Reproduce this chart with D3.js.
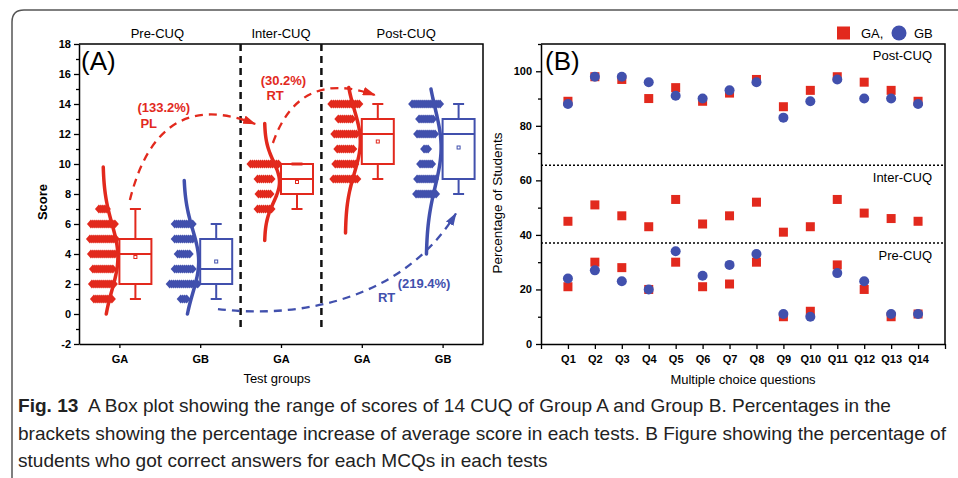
<!DOCTYPE html>
<html>
<head>
<meta charset="utf-8">
<script src="https://cdn.jsdelivr.net/npm/d3@7"></script>
<style>
  body { margin: 0; background: #fff; }
  svg { display: block; font-family: Arial, "Liberation Sans", sans-serif; }
</style>
</head>
<body>
<svg id="fig" width="958" height="478"></svg>
<script>
// ---- panel A: score distributions ----
const groups = ["GA", "GB", "GA", "GA", "GB"];
const phases = ["Pre-CUQ", "Inter-CUQ", "Post-CUQ"];
const phasePos = [1.47, 3, 4.55];
const q1 = [2, 2, 8, 10, 9];
const median = [4, 3, 9, 12, 12];
const q3 = [5, 5, 10, 13, 13];
const whiskerLow = [1, 1, 7, 9, 8];
const whiskerHigh = [7, 6, 10, 14, 14];
const means = [3.8, 3.5, 8.8, 11.5, 11.1];
const sds = [2.2, 2.1, 1.35, 2.1, 2.6];
const curveLow = [0, 0, 4.9, 5.4, 4.0];
const curveHigh = [9.8, 8.9, 12.7, 15.1, 15.0];
// students per score, index = score 0..14
const countsPreGA   = [0, 10, 12, 11, 13, 14, 13, 5, 0, 0, 0, 0, 0, 0, 0];
const countsPreGB   = [0, 4, 15, 10, 7, 10, 10, 0, 0, 0, 0, 0, 0, 0, 0];
const countsInterGA = [0, 0, 0, 0, 0, 0, 0, 8, 7, 8, 15, 0, 0, 0, 0];
const countsPostGA  = [0, 0, 0, 0, 0, 0, 0, 0, 0, 13, 11, 9, 12, 8, 15];
const countsPostGB  = [0, 0, 0, 0, 0, 0, 0, 0, 11, 10, 7, 3, 10, 8, 15];
const counts = [countsPreGA, countsPreGB, countsInterGA, countsPostGA, countsPostGB];

// ---- panel B: % correct per question ----
const questions = d3.range(1, 15).map(i => "Q" + i);
const preGA   = [21, 30, 28, 20, 30, 21, 22, 30, 10, 12, 29, 20, 10, 11];
const preGB   = [24, 27, 23, 20, 34, 25, 29, 33, 11, 10, 26, 23, 11, 11];
const interGA = [45, 51, 47, 43, 53, 44, 47, 52, 41, 43, 53, 48, 46, 45];
const postGA  = [89, 98, 97, 90, 94, 89, 92, 97, 87, 93, 98, 96, 93, 89];
const postGB  = [88, 98, 98, 96, 91, 90, 93, 96, 83, 89, 97, 90, 90, 88];
const phaseBounds = [37, 65.5];

const RED = "#e2291d";
const BLUE = "#4150ad";
const colorOf = g => g === "GA" ? RED : BLUE;

const svg = d3.select("#fig");

// outer figure border
svg.append("path")
  .attr("d", "M12,478 L12,22 Q12,10 24,10 L958,10")
  .attr("fill", "none").attr("stroke", "#555").attr("stroke-width", 1.5);

const defs = svg.append("defs");
[["arRed", RED], ["arBlue", BLUE]].forEach(([id, c]) => {
  defs.append("marker").attr("id", id)
    .attr("viewBox", "0 0 12 8").attr("refX", 11).attr("refY", 4)
    .attr("markerUnits", "userSpaceOnUse")
    .attr("markerWidth", 13).attr("markerHeight", 9)
    .attr("orient", "auto")
    .append("path").attr("d", "M0,0 L12,4 L0,8 z").attr("fill", c);
});

// ================= PANEL A =================
let xA = d3.scaleLinear().domain([0.5, 5.5]).range([79, 483]);
let yA = d3.scaleLinear().domain([-2, 18]).range([344, 44]);
let gA = svg.append("g");

// frame
gA.append("path")
  .attr("d", `M${xA(0.5)},${yA(18)} L${xA(5.5)},${yA(18)} L${xA(5.5)},${yA(-2)}`)
  .attr("fill", "none").attr("stroke", "#000").attr("stroke-width", 1.5);

// y axis
let yAxisA = d3.axisLeft(yA).tickValues(d3.range(-2, 19, 2))
  .tickFormat(d => String(d)).tickSize(5).tickPadding(3).tickSizeOuter(0);
gA.append("g").attr("class", "y-axis")
  .attr("transform", "translate(" + xA(0.5) + ",0)")
  .call(yAxisA);
gA.append("g")
  .attr("transform", "translate(" + xA(0.5) + ",0)")
  .call(d3.axisLeft(yA).tickValues(d3.range(-1, 18, 2)).tickSize(3).tickFormat("").tickSizeOuter(0))
  .select(".domain").remove();

// x axis
let xAxisA = d3.axisBottom(xA).tickValues([1, 2, 3, 4, 5])
  .tickFormat(i => groups[i - 1]).tickSize(4).tickPadding(7).tickSizeOuter(0);
gA.append("g").attr("class", "x-axis")
  .attr("transform", "translate(0," + yA(-2) + ")")
  .call(xAxisA);

// phase separators
gA.selectAll("line.sep")
  .data([2.5, 3.5])
  .join("line").attr("class", "sep")
  .attr("x1", d => xA(d)).attr("x2", d => xA(d))
  .attr("y1", yA(18)).attr("y2", yA(-0.9))
  .attr("stroke", "#111").attr("stroke-width", 2.5).attr("stroke-dasharray", "7,5");

// phase labels
gA.selectAll("text.phase")
  .data(phases)
  .join("text").attr("class", "phase")
  .attr("x", (d, i) => xA(phasePos[i]))
  .attr("y", 38)
  .attr("text-anchor", "middle").attr("font-size", 13)
  .text(d => d);

// dot rows (one diamond per student)
const dotOff = -16.5, step = 2, dw = 4, dh = 4.5;
groups.forEach((g, i) => {
  let rows = counts[i].map((n, s) => ({ n: n, s: s })).filter(r => r.n > 0);
  let pts = [];
  rows.forEach(r => {
    for (let k = 0; k < r.n; k++) {
      pts.push({ x: xA(i + 1) + dotOff - (r.n - 1) * step / 2 + k * step, y: yA(r.s) });
    }
  });
  gA.append("g").selectAll("path")
    .data(pts)
    .join("path")
    .attr("d", d => `M${d.x - dw},${d.y} L${d.x},${d.y - dh} L${d.x + dw},${d.y} L${d.x},${d.y + dh} Z`)
    .attr("fill", colorOf(g));
});

// normal curves
const curveAmp = 15;
groups.forEach((g, i) => {
  let ss = d3.range(curveLow[i], curveHigh[i] + 0.001, 0.1);
  let line = d3.line()
    .x(s => xA(i + 1) + dotOff + curveAmp * Math.exp(-0.5 * Math.pow((s - means[i]) / sds[i], 2)))
    .y(s => yA(s))
    .curve(d3.curveBasis);
  gA.append("path").datum(ss)
    .attr("d", line)
    .attr("fill", "none").attr("stroke", colorOf(g))
    .attr("stroke-width", 3.5).attr("stroke-linecap", "round");
});

// box plots
const boxW = 32, capW = 11;
groups.forEach((g, i) => {
  let c = colorOf(g);
  let x0 = xA(i + 1), xm = x0 + boxW / 2;
  let bg = gA.append("g").attr("stroke", c).attr("stroke-width", 2).attr("fill", "none");
  bg.append("line").attr("x1", xm).attr("x2", xm).attr("y1", yA(whiskerLow[i])).attr("y2", yA(q1[i]));
  bg.append("line").attr("x1", xm).attr("x2", xm).attr("y1", yA(q3[i])).attr("y2", yA(whiskerHigh[i]));
  bg.append("line").attr("x1", xm - capW / 2).attr("x2", xm + capW / 2).attr("y1", yA(whiskerLow[i])).attr("y2", yA(whiskerLow[i]));
  bg.append("line").attr("x1", xm - capW / 2).attr("x2", xm + capW / 2).attr("y1", yA(whiskerHigh[i])).attr("y2", yA(whiskerHigh[i]))
    .attr("stroke-width", whiskerHigh[i] === q3[i] ? 3 : 2);
  bg.append("rect").attr("x", x0).attr("width", boxW)
    .attr("y", yA(q3[i])).attr("height", yA(q1[i]) - yA(q3[i]));
  bg.append("line").attr("x1", x0).attr("x2", x0 + boxW).attr("y1", yA(median[i])).attr("y2", yA(median[i]));
  bg.append("rect").attr("x", xm - 1.5).attr("y", yA(means[i]) - 1.5)
    .attr("width", 3).attr("height", 3).attr("stroke-width", 1);
});

// arrows (data-space control points)
const P = (a, b) => [xA(a), yA(b)];
function quadPath(p0, p1, p2) {
  return `M${p0[0]},${p0[1]} Q${p1[0]},${p1[1]} ${p2[0]},${p2[1]}`;
}
function cubicPath(p0, p1, p2, p3) {
  return `M${p0[0]},${p0[1]} C${p1[0]},${p1[1]} ${p2[0]},${p2[1]} ${p3[0]},${p3[1]}`;
}
gA.append("path")
  .attr("d", quadPath(P(1.13, 7.6), P(1.48, 15.2), P(2.68, 12.67)))
  .attr("fill", "none").attr("stroke", RED).attr("stroke-width", 2.3)
  .attr("stroke-dasharray", "8,6").attr("marker-end", "url(#arRed)");
gA.append("path")
  .attr("d", quadPath(P(2.9, 11.4), P(3.22, 16.37), P(4.16, 14.6)))
  .attr("fill", "none").attr("stroke", RED).attr("stroke-width", 2.3)
  .attr("stroke-dasharray", "8,6").attr("marker-end", "url(#arRed)");
gA.append("path")
  .attr("d", cubicPath(P(2.22, 0.33), P(3.11, -0.27), P(4.47, 0.6), P(5.165, 6.7)))
  .attr("fill", "none").attr("stroke", BLUE).attr("stroke-width", 2.3)
  .attr("stroke-dasharray", "8,6").attr("marker-end", "url(#arBlue)");

// annotations
const notes = [
  { t: "(133.2%)", a: 1.55, b: 13.45, c: RED, anchor: "middle" },
  { t: "PL", a: 1.26, b: 12.4, c: RED, anchor: "start" },
  { t: "(30.2%)", a: 3.03, b: 15.25, c: RED, anchor: "middle" },
  { t: "RT", a: 2.82, b: 14.3, c: RED, anchor: "start" },
  { t: "(219.4%)", a: 4.77, b: 1.75, c: BLUE, anchor: "middle" },
  { t: "RT", a: 4.2, b: 0.8, c: BLUE, anchor: "start" }
];
gA.selectAll("text.note")
  .data(notes)
  .join("text").attr("class", "note")
  .attr("x", d => xA(d.a)).attr("y", d => yA(d.b))
  .attr("text-anchor", d => d.anchor)
  .attr("fill", d => d.c).attr("font-size", 13).attr("font-weight", "bold")
  .text(d => d.t);

gA.append("text").attr("x", 81).attr("y", 70).attr("font-size", 26).text("(A)");
gA.append("text")
  .attr("transform", "translate(47,202) rotate(-90)")
  .attr("text-anchor", "middle").attr("font-size", 13).attr("font-weight", "bold")
  .text("Score");
gA.append("text").attr("x", 277).attr("y", 383)
  .attr("text-anchor", "middle").attr("font-size", 13).text("Test groups");

// ================= PANEL B =================
let xB = d3.scaleLinear().domain([0, 15]).range([541, 945]);
let yB = d3.scaleLinear().domain([0, 110]).range([344, 44]);
let gB = svg.append("g");

gB.append("path")
  .attr("d", `M${xB(0)},${yB(110)} L${xB(15)},${yB(110)} L${xB(15)},${yB(0)}`)
  .attr("fill", "none").attr("stroke", "#000").attr("stroke-width", 1.5);

gB.append("g")
  .attr("transform", "translate(" + xB(0) + ",0)")
  .call(d3.axisLeft(yB).tickValues(d3.range(0, 101, 20)).tickSize(5).tickPadding(4).tickSizeOuter(0));
gB.append("g")
  .attr("transform", "translate(" + xB(0) + ",0)")
  .call(d3.axisLeft(yB).tickValues(d3.range(10, 111, 20)).tickSize(3).tickFormat("").tickSizeOuter(0))
  .select(".domain").remove();
gB.append("g")
  .attr("transform", "translate(0," + yB(0) + ")")
  .call(d3.axisBottom(xB).tickValues(d3.range(0, 16))
    .tickFormat(i => (i >= 1 && i <= 14) ? questions[i - 1] : "")
    .tickSize(5).tickPadding(6).tickSizeOuter(0));

gB.selectAll("line.bound")
  .data(phaseBounds)
  .join("line").attr("class", "bound")
  .attr("x1", xB(0)).attr("x2", xB(15))
  .attr("y1", d => yB(d)).attr("y2", d => yB(d))
  .attr("stroke", "#000").attr("stroke-width", 1.5).attr("stroke-dasharray", "2,2");

gB.selectAll("text.phaseB")
  .data([["Pre-CUQ", 30.8], ["Inter-CUQ", 59.5], ["Post-CUQ", 104.1]])
  .join("text").attr("class", "phaseB")
  .attr("x", 932).attr("y", d => yB(d[1]))
  .attr("text-anchor", "end").attr("font-size", 13)
  .text(d => d[0]);

const sq = 9, rr = 5;
[preGA, interGA, postGA].forEach(arr => {
  gB.append("g").selectAll("rect")
    .data(arr)
    .join("rect")
    .attr("x", (d, i) => xB(i + 1) - sq / 2)
    .attr("y", d => yB(d) - sq / 2)
    .attr("width", sq).attr("height", sq)
    .attr("fill", RED);
});
[preGB, postGB].forEach(arr => {
  gB.append("g").selectAll("circle")
    .data(arr)
    .join("circle")
    .attr("cx", (d, i) => xB(i + 1))
    .attr("cy", d => yB(d))
    .attr("r", rr)
    .attr("fill", BLUE);
});

gB.append("text").attr("x", 545).attr("y", 70).attr("font-size", 26).text("(B)");
gB.append("text")
  .attr("transform", "translate(502,203) rotate(-90)")
  .attr("text-anchor", "middle").attr("font-size", 13.5)
  .text("Percentage of Students");
gB.append("text").attr("x", 743).attr("y", 384)
  .attr("text-anchor", "middle").attr("font-size", 13).text("Multiple choice questions");

// legend
let leg = svg.append("g");
leg.append("rect").attr("x", 837).attr("y", 26.5).attr("width", 13).attr("height", 13).attr("fill", RED);
leg.append("text").attr("x", 861).attr("y", 38).attr("font-size", 13).text("GA,");
leg.append("circle").attr("cx", 899).attr("cy", 33).attr("r", 7.5).attr("fill", BLUE);
leg.append("text").attr("x", 914).attr("y", 38).attr("font-size", 13).text("GB");

// axis text styling
svg.selectAll(".tick text").attr("font-size", 11).attr("font-weight", "bold").attr("font-family", "Arial, 'Liberation Sans', sans-serif").attr("fill", "#000");
svg.selectAll(".domain").attr("stroke-width", 1.5);
svg.selectAll(".tick line").attr("stroke-width", 1.3);

// caption: one shared horizontal squeeze so it reads as a condensed face
const capLines = [
  { bold: "Fig. 13", rest: "  A Box plot showing the range of scores of 14 CUQ of Group A and Group B. Percentages in the" },
  { bold: "", rest: "brackets showing the percentage increase of average score in each tests. B Figure showing the percentage of" },
  { bold: "", rest: "students who got correct answers for each MCQs in each tests" }
];
let capNodes = capLines.map((l, i) => {
  let t = svg.append("text")
    .attr("x", 18).attr("y", 412 + i * 27.5)
    .attr("font-family", "'Liberation Sans', Arial, sans-serif")
    .attr("font-size", 19).attr("fill", "#222")
    .attr("xml:space", "preserve");
  if (l.bold) t.append("tspan").attr("font-weight", "bold").text(l.bold);
  t.append("tspan").text(l.rest);
  return t;
});
let natural = capNodes.map(t => t.node().getComputedTextLength());
let squeeze = 928 / natural[1];
capNodes.forEach((t, i) => {
  t.attr("textLength", natural[i] * squeeze).attr("lengthAdjust", "spacingAndGlyphs");
});
</script>
</body>
</html>
